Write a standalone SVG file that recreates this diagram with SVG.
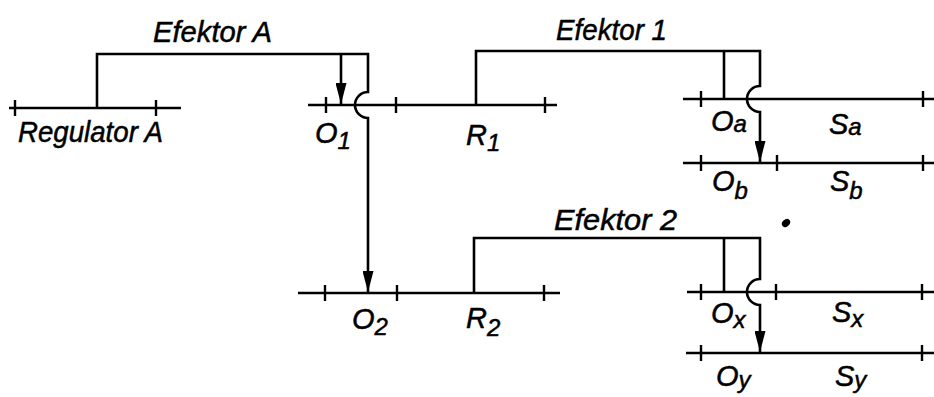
<svg xmlns="http://www.w3.org/2000/svg" width="934" height="397" viewBox="0 0 934 397">
<style>
  .ln{stroke:#000;stroke-width:2.6;fill:none;stroke-linecap:butt}
  .tk{stroke:#000;stroke-width:2.4}
  .t{font-family:"Liberation Sans","DejaVu Sans",sans-serif;font-style:italic;font-size:29px;fill:#000;stroke:#000;stroke-width:0.5}
  .s{font-size:24px}
</style>
<defs>
  <marker id="ah" markerUnits="userSpaceOnUse" markerWidth="21" markerHeight="11" refX="10" refY="5" orient="auto" viewBox="0 0 10 10" preserveAspectRatio="none">
    <path d="M0,0 L10,5 L0,10 Z" fill="#000"/>
  </marker>
</defs>
<rect width="934" height="397" fill="#fff"/>

<g id="regulator-a">
  <path class="ln" d="M9,108 H181"/>
  <path class="tk" d="M15,100 V116 M156,100 V116"/>
  <text class="t" x="18" y="142" textLength="145" lengthAdjust="spacingAndGlyphs">Regulator A</text>
</g>

<g id="o1-r1">
  <path class="ln" d="M308,105 H557"/>
  <path class="tk" d="M326,97 V113 M396,97 V113 M545,97 V113"/>
  <text class="t" x="315" y="143">O<tspan class="s" dy="6">1</tspan></text>
  <text class="t" x="466" y="145">R<tspan class="s" dy="6">1</tspan></text>
</g>

<g id="oa-sa">
  <path class="ln" d="M683,99 H934"/>
  <path class="tk" d="M701,91 V107 M923,91 V107"/>
  <text class="t" x="711" y="131">O<tspan class="s" dy="1">a</tspan></text>
  <text class="t" x="829" y="134">S<tspan class="s" dy="1">a</tspan></text>
</g>

<g id="ob-sb">
  <path class="ln" d="M683,163 H934"/>
  <path class="tk" d="M701,155 V171 M777,155 V171 M923,155 V171"/>
  <text class="t" x="712" y="191">O<tspan class="s" dy="8">b</tspan></text>
  <text class="t" x="830" y="191">S<tspan class="s" dy="8">b</tspan></text>
</g>

<g id="o2-r2">
  <path class="ln" d="M298,293 H560"/>
  <path class="tk" d="M325,285 V301 M397,285 V301 M544,285 V301"/>
  <text class="t" x="352" y="329">O<tspan class="s" dy="6">2</tspan></text>
  <text class="t" x="466" y="328">R<tspan class="s" dy="8">2</tspan></text>
</g>

<g id="ox-sx">
  <path class="ln" d="M687,292 H934"/>
  <path class="tk" d="M701,284 V300 M776,284 V300 M922,284 V300"/>
  <text class="t" x="711" y="323">O<tspan class="s" dy="5">x</tspan></text>
  <text class="t" x="832" y="322">S<tspan class="s" dy="5">x</tspan></text>
</g>

<g id="oy-sy">
  <path class="ln" d="M686,353 H934"/>
  <path class="tk" d="M701,345 V361 M922,345 V361"/>
  <text class="t" x="716" y="386">O<tspan class="s" dy="2">y</tspan></text>
  <text class="t" x="835" y="386">S<tspan class="s" dy="2">y</tspan></text>
</g>

<g id="connectors">
  <g id="efektor-a">
    <path class="ln" d="M97,108 V54 H368 V92 A13,13 0 0 0 368,118 V292" marker-end="url(#ah)"/>
    <path class="ln" d="M341,54 V104" marker-end="url(#ah)"/>
    <text class="t" x="153" y="42" textLength="119" lengthAdjust="spacingAndGlyphs">Efektor A</text>
  </g>
  <g id="efektor-1">
    <path class="ln" d="M476,105 V51 H760 V86 A13,13 0 0 0 760,112 V162" marker-end="url(#ah)"/>
    <path class="ln" d="M724,51 V99"/>
    <text class="t" x="556" y="40" textLength="111" lengthAdjust="spacingAndGlyphs">Efektor 1</text>
  </g>
  <g id="efektor-2">
    <path class="ln" d="M474,293 V238 H760 V279 A13,13 0 0 0 760,305 V352" marker-end="url(#ah)"/>
    <path class="ln" d="M724,238 V292"/>
    <text class="t" x="554" y="230" textLength="123" lengthAdjust="spacingAndGlyphs">Efektor 2</text>
  </g>
</g>

<ellipse cx="786" cy="223" rx="4.5" ry="3.5" transform="rotate(-40 786 223)" fill="#000"/>
</svg>
